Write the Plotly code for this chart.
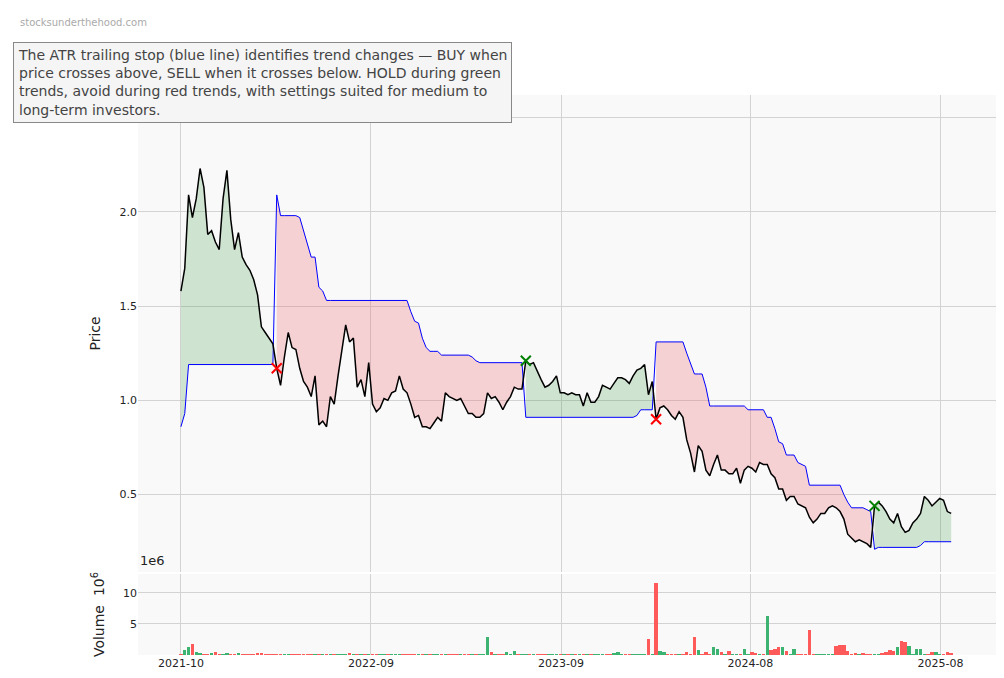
import plotly.graph_objects as go
from plotly.subplots import make_subplots

price = [1.58,1.70,2.09,1.97,2.07,2.23,2.13,1.88,1.90,1.84,1.80,2.07,2.22,1.96,1.80,1.89,1.76,1.72,1.69,1.64,
         1.56,1.39,1.36,1.33,1.30,1.17,1.08,1.23,1.36,1.28,1.27,1.17,1.10,1.07,1.02,1.13,0.87,0.89,0.86,
         1.02,0.98,1.13,1.26,1.40,1.31,1.33,1.07,1.11,1.02,1.20,0.98,0.94,0.96,1.01,1.00,1.04,1.05,1.13,1.06,1.04,
         0.98,0.91,0.92,0.86,0.86,0.85,0.88,0.91,0.89,
         1.04,1.02,1.01,1.00,1.01,0.97,0.93,0.93,0.91,
         0.91,0.93,1.04,1.01,1.02,0.99,0.95,0.99,1.02,1.07,1.06,1.06,
         1.21,
         1.19,1.20,1.15,1.11,1.07,1.08,1.10,1.13,1.04,1.04,1.03,1.04,1.03,1.03,0.97,1.04,0.99,0.99,1.02,1.08,1.07,1.06,1.09,1.12,1.12,1.11,1.09,1.13,
         1.16,1.17,1.19,1.03,1.10,
         0.90,0.96,0.97,0.95,0.92,0.90,0.94,0.91,
         0.79,0.72,0.62,0.76,0.73,0.63,
         0.60,0.66,0.71,0.63,0.63,0.61,0.61,0.64,0.56,0.63,
         0.65,0.64,0.62,0.67,0.66,0.66,0.61,0.59,0.53,0.53,0.47,0.49,0.49,0.45,0.44,0.43,0.38,0.35,0.37,0.40,0.40,0.43,0.44,0.43,0.41,0.37,0.29,0.27,0.25,0.26,0.25,0.24,0.22,
         0.44,0.46,0.44,0.41,0.37,0.35,0.40,0.33,0.30,0.31,0.35,0.37,0.40,0.49,0.47,0.44,0.46,0.48,0.47,0.41,0.40]

stop = [0.86,0.93] + [1.19]*23 + \
       [2.09,1.98,1.98,1.98,1.98,1.98,1.97,1.90,1.82,1.76,1.76,1.60,1.58,1.53] + [1.53]*21 + \
       [1.47,1.42,1.41,1.33,1.28,1.26,1.26,1.26,1.24] + [1.24]*7 + [1.23,1.21] + [1.20]*12 + \
       [0.91] + [0.91]*28 + [0.92,0.95,0.95,0.95,0.95] + \
       [1.31] + [1.31]*7 + [1.25,1.20,1.14,1.14,1.14,1.07] + [0.97]*10 + \
       [0.95,0.95,0.95,0.95,0.95,0.91,0.91,0.85,0.78,0.77,0.71,0.71,0.71,0.67,0.66,0.65,0.55] + [0.55]*8 + \
       [0.50,0.46,0.43,0.43,0.43,0.43,0.42,0.41] + \
       [0.21] + [0.22]*11 + [0.23] + [0.25]*10

volume = [0.1,0.8,1.2,1.8,0.4,0.3,0.1,0.1,0.3,0.4,0.1,0.1,0.2,0.1,0.1,0.2,0.1,0.1,0.1,0.1,
          0.3,0.2,0.1,0.1,0.1,0.1,0.1,0.1,0.1,0.1,0.1,0.1,0.1,0.1,0.1,0.1,0.1,0.1,0.1,0.1,
          0.1,0.1,0.1,0.1,0.2,0.1,0.1,0.1,0.1,0.1,0.1,0.1,0.1,0.1,0.1,0.1,0.1,0.1,0.1,0.1,
          0.1,0.1,0.1,0.1,0.1,0.1,0.1,0.1,0.1,0.1,0.1,0.1,0.1,0.1,0.1,0.1,0.1,0.1,0.1,0.1,
          2.8,0.5,0.1,0.1,0.1,0.4,0.1,0.6,0.1,0.1,0.1,0.1,0.1,0.1,0.1,0.1,0.1,0.1,0.1,0.1,
          0.1,0.1,0.1,0.1,0.1,0.1,0.1,0.1,0.1,0.1,0.1,0.1,0.1,0.3,0.4,0.1,0.1,0.1,0.1,0.1,
          0.1,0.1,2.5,0.1,11.5,0.6,0.4,0.1,0.1,0.1,0.1,0.1,0.5,0.1,2.8,0.8,0.1,0.5,0.1,1.2,
          1.0,0.5,0.1,0.6,0.1,0.1,0.1,1.0,0.1,0.4,0.3,0.1,0.1,6.2,0.8,1.0,1.2,1.3,0.6,0.1,
          1.0,0.1,0.1,0.1,4.0,0.1,0.1,0.1,0.1,0.1,0.1,1.5,1.6,1.6,0.6,0.1,0.3,0.1,0.2,0.1,
          0.1,0.1,0.1,0.3,0.5,0.8,0.7,1.2,2.2,2.0,1.4,0.1,1.0,1.0,0.1,0.1,0.4,0.4,0.1,0.1,
          0.5,0.3,0.1,0.1]

tick_pos = [0, 49.6, 99.2, 148.6, 198.2]
tick_text = ["2021-10", "2022-09", "2023-09", "2024-08", "2025-08"]

n = min(len(price), len(stop), len(volume))
price, stop, volume = price[:n], stop[:n], volume[:n]
x = list(range(n))
up = [p > s for p, s in zip(price, stop)]

fig = make_subplots(rows=2, cols=1, shared_xaxes=True, row_heights=[0.855, 0.145], vertical_spacing=0.004)

runs = []
start = 0
for i in range(1, n + 1):
    if i == n or up[i] != up[start]:
        runs.append((start, i - 1, up[start]))
        start = i
for a, b, u in runs:
    xs = x[a:b + 1]
    fig.add_trace(go.Scatter(x=xs, y=stop[a:b + 1], mode="lines", line=dict(width=0),
                             showlegend=False, hoverinfo="skip"), row=1, col=1)
    fig.add_trace(go.Scatter(x=xs, y=price[a:b + 1], mode="lines", line=dict(width=0),
                             fill="tonexty",
                             fillcolor="rgba(60,150,70,0.22)" if u else "rgba(240,90,100,0.25)",
                             showlegend=False, hoverinfo="skip"), row=1, col=1)

fig.add_trace(go.Scatter(x=x, y=stop, mode="lines", line=dict(color="blue", width=1), showlegend=False), row=1, col=1)
fig.add_trace(go.Scatter(x=x, y=price, mode="lines", line=dict(color="black", width=1.5), showlegend=False), row=1, col=1)

buy_x = [i for i in range(1, n) if up[i] and not up[i - 1]]
sell_x = [i for i in range(1, n) if not up[i] and up[i - 1]]
fig.add_trace(go.Scatter(x=buy_x, y=[price[i] for i in buy_x], mode="markers",
                         marker=dict(symbol="x-thin", size=10, line=dict(color="green", width=2)),
                         showlegend=False), row=1, col=1)
fig.add_trace(go.Scatter(x=sell_x, y=[price[i] for i in sell_x], mode="markers",
                         marker=dict(symbol="x-thin", size=10, line=dict(color="red", width=2)),
                         showlegend=False), row=1, col=1)

vcol = ["#3cb371" if i > 0 and price[i] >= price[i - 1] else "#ff5a5a" for i in range(n)]
fig.add_trace(go.Bar(x=x, y=volume, marker=dict(color=vcol, line=dict(width=0)), width=0.9,
                     showlegend=False), row=2, col=1)

ax = dict(showgrid=True, gridcolor="#d3d3d3", gridwidth=1, zeroline=False, showline=False,
          automargin=False, tickfont=dict(size=11, color="#222"))
fig.update_xaxes(**ax, range=[-11.2, 214], tickvals=tick_pos, ticktext=tick_text)
fig.update_xaxes(showticklabels=False, row=1, col=1)
fig.update_yaxes(**ax)
fig.update_yaxes(range=[0.09, 2.62], tickvals=[0.5, 1.0, 1.5, 2.0, 2.5],
                 ticktext=["0.5", "1.0", "1.5", "2.0", "2.5"], title=dict(text="Price", font=dict(size=14)), row=1, col=1)
fig.update_yaxes(range=[0, 13], tickvals=[5, 10], title=dict(text="Volume  10<sup>6</sup>", font=dict(size=14)), row=2, col=1)

fig.update_layout(
    width=1004, height=678, margin=dict(l=130, r=11, t=87, b=31, autoexpand=False),
    paper_bgcolor="white", plot_bgcolor="#f9f9f9", bargap=0,
    font=dict(family="DejaVu Sans", color="#222"),
    annotations=[
        dict(text="stocksunderthehood.com", xref="paper", yref="paper", x=-0.139, y=1.13,
             xanchor="left", yanchor="middle", showarrow=False, font=dict(size=10, color="#aaaaaa")),
        dict(text="The ATR trailing stop (blue line) identifies trend changes — BUY when<br>"
                  "price crosses above, SELL when it crosses below. HOLD during green<br>"
                  "trends, avoid during red trends, with settings suited for medium to<br>"
                  "long-term investors.",
             xref="paper", yref="paper", x=-0.145, y=1.095, xanchor="left", yanchor="top", align="left",
             showarrow=False, font=dict(size=14, color="#444"), bgcolor="#f5f5f5",
             bordercolor="#888", borderwidth=1, borderpad=4),
        dict(text="1e6", xref="paper", yref="paper", x=0.0, y=0.152, xanchor="left", yanchor="bottom",
             showarrow=False, font=dict(size=13, color="#222")),
    ],
)
fig.write_html("out.html")
